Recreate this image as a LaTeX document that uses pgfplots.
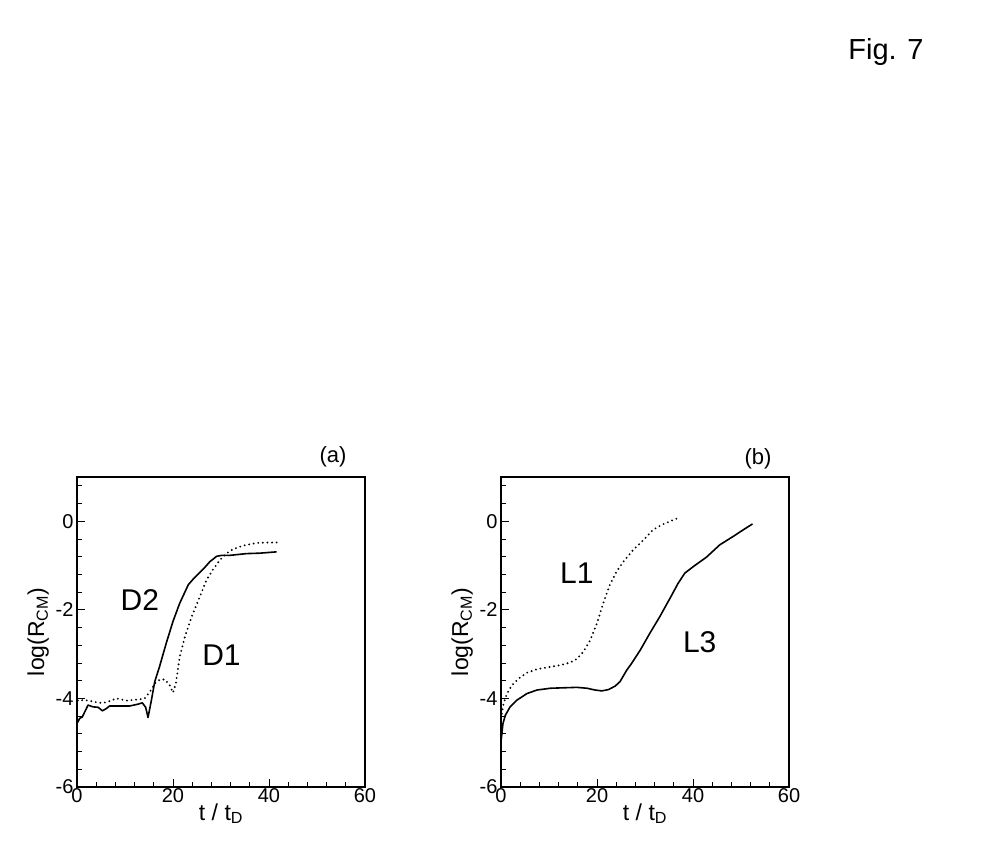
\documentclass[border=0pt]{standalone}
\usepackage{pgfplots}
\pgfplotsset{compat=1.18}
\usepackage{fontspec}
\setmainfont{Liberation Sans}
\begin{document}
\begin{tikzpicture}
\path[use as bounding box] (0pt,0pt) rectangle (981pt,843pt);
\pgfplotsset{
  myax/.style={
    anchor=south west, scale only axis, width=288pt, height=310pt,
    xmin=0, xmax=60, ymin=-6, ymax=1,
    xtick={0,20,40,60}, ytick={-6,-4,-2,0,2},
    minor x tick num=4, minor y tick num=4,
    xtick pos=left, ytick pos=left, tick align=inside,
    major tick length=8pt, minor tick length=5pt,
    every tick/.style={black, line width=0.9pt},
    axis line style={line width=1.3pt},
    /pgf/number format/assume math mode=true,
    tick label style={font=\fontsize{20}{22}\selectfont},
    xticklabel style={yshift=2pt},
    label style={font=\fontsize{23}{25}\selectfont},
    xlabel={t / t\textsubscript{D}},
    xlabel style={yshift=6pt},
    ylabel={log(R\textsubscript{CM})},
    clip=false,
  },
  solidl/.style={black, line width=1.6pt, line join=round},
  dotl/.style={black, line width=2.1pt, line cap=round, dash pattern=on 0pt off 4.6pt},
}
\begin{axis}[myax, at={(77pt,56pt)}]
\addplot[solidl] coordinates {
(0,-4.57) (0.56,-4.45) (1.1,-4.42) (2.3,-4.15) (3.3,-4.19) (4.4,-4.2) (5.3,-4.28)
(6.1,-4.23) (6.8,-4.17) (8.9,-4.17) (11,-4.17) (12.7,-4.13) (13.6,-4.1) (14.3,-4.2)
(14.8,-4.43) (15.5,-4.04) (16.2,-3.62) (17.2,-3.28) (18.6,-2.75) (20.0,-2.26)
(21.4,-1.85) (23.2,-1.43) (24.5,-1.27) (26.3,-1.08) (27.7,-0.91) (29.1,-0.79)
(30.1,-0.77) (31.8,-0.77) (35.3,-0.73) (38.1,-0.72) (41.6,-0.69)};
\addplot[dotl] coordinates {
(0,-4.15) (0.2,-4.04) (1.9,-4.04) (4.7,-4.1) (6.1,-4.09) (8.2,-4.0) (10.3,-4.05)
(13.1,-4.02) (14.1,-4.0) (15.2,-3.85) (16.2,-3.66) (17.2,-3.58) (18.3,-3.57)
(19.3,-3.7) (20.0,-3.87) (20.6,-3.66) (21.4,-3.06) (22.5,-2.6) (23.9,-2.15)
(25.6,-1.7) (27.0,-1.32) (28.4,-1.08) (29.8,-0.87) (31.2,-0.72) (32.5,-0.63)
(34.6,-0.55) (37.4,-0.49) (39.5,-0.48) (41.9,-0.48)};
\node[font=\fontsize{30}{32}\selectfont] at (axis cs:13.1,-1.77) {D2};
\node[font=\fontsize{30}{32}\selectfont] at (axis cs:30.1,-3.02) {D1};
\end{axis}
\begin{axis}[myax, at={(501pt,56pt)}]
\addplot[dotl] coordinates {
(0,-4.45) (0.55,-4.11) (1.25,-3.89) (2.3,-3.7) (3.7,-3.55) (5.4,-3.42) (7.5,-3.34)
(9.6,-3.3) (12.3,-3.25) (14.4,-3.19) (15.8,-3.11) (17.2,-2.94) (18.6,-2.68)
(20.0,-2.3) (21.3,-1.85) (22.7,-1.43) (24.1,-1.13) (25.5,-0.91) (27.6,-0.64)
(29.7,-0.42) (31.7,-0.19) (33.5,-0.08) (35.2,0) (37.3,0.09)};
\addplot[solidl] coordinates {
(0,-4.98) (0.4,-4.57) (0.9,-4.38) (1.9,-4.19) (3.3,-4.04) (5.4,-3.89) (7.5,-3.81)
(10.3,-3.77) (13.0,-3.76) (15.8,-3.75) (17.9,-3.77) (19.6,-3.81) (21.0,-3.83)
(22.4,-3.8) (23.8,-3.72) (24.8,-3.62) (26.2,-3.36) (27.2,-3.21) (29.0,-2.91)
(31.0,-2.53) (33.1,-2.15) (35.2,-1.74) (36.9,-1.40) (38.3,-1.17) (40.1,-1.02)
(42.8,-0.81) (45.6,-0.53) (48.4,-0.34) (50.5,-0.19) (52.4,-0.06)};
\node[font=\fontsize{30}{32}\selectfont] at (axis cs:15.8,-1.17) {L1};
\node[font=\fontsize{30}{32}\selectfont] at (axis cs:41.4,-2.72) {L3};
\end{axis}
\node[font=\fontsize{22}{24}\selectfont] at (333pt,386pt) {(a)};
\node[font=\fontsize{22}{24}\selectfont] at (758pt,384pt) {(b)};
\node[font=\fontsize{29}{31}\selectfont] at (886pt,791pt) {Fig. 7};
\end{tikzpicture}
\end{document}
